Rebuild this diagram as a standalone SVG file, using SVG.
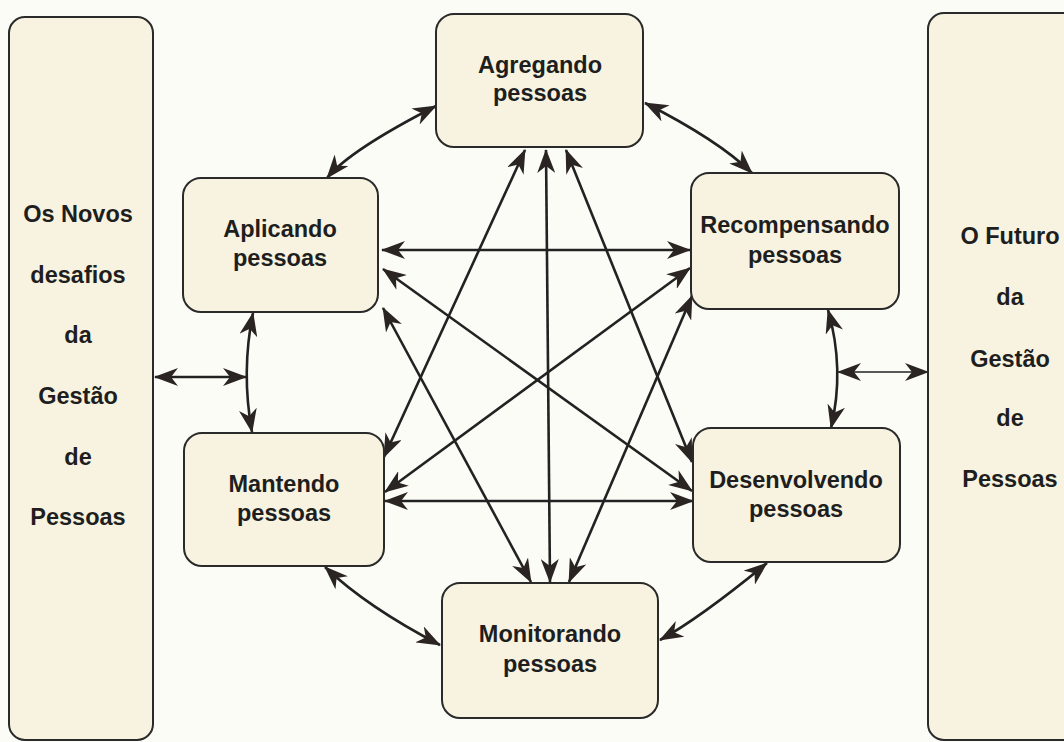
<svg xmlns="http://www.w3.org/2000/svg" width="1064" height="742" viewBox="0 0 1064 742">
<defs>
<style>
.box{fill:#f7f3e0;stroke:#2a2a2a;stroke-width:2}
.t{font-family:"Liberation Sans",Arial,sans-serif;font-weight:bold;font-size:23.5px;fill:#1e1e1e;text-anchor:middle}
.c{fill:none;stroke:#222;stroke-width:2.6;marker-start:url(#ah);marker-end:url(#ah)}
.thin{stroke-width:1.3}
</style>
<marker id="ah" viewBox="0 0 24 18" refX="23" refY="9" markerWidth="24" markerHeight="18" markerUnits="userSpaceOnUse" orient="auto-start-reverse">
<path d="M0,0 L24,9 L0,18 L7,9 Z" fill="#2a2422"/>
</marker>
</defs>
<rect width="1064" height="742" fill="#fcfcf7"/>

<g id="connectors">
<path class="c" d="M327,178 Q350,150 436,106"/>
<path class="c" d="M645,103 Q718,140 752,173"/>
<path class="c" d="M828,310 Q845,369 831,428"/>
<path class="c" d="M767,563 Q700,618 660,640"/>
<path class="c" d="M440,645 Q367,607 325,567"/>
<path class="c" d="M253,313 Q241,372 252,432"/>
<path class="c" d="M155,377 L246,377"/>
<path class="c thin" d="M838,372 L928,372"/>
<path class="c" d="M382,250 L690,250"/>
<path class="c" d="M385,501 L693,501"/>
<path class="c" d="M525,150 L384,457"/>
<path class="c" d="M546,150 L550,582"/>
<path class="c" d="M566,150 L692,462"/>
<path class="c" d="M383,269 L692,491"/>
<path class="c" d="M383,308 L531,582"/>
<path class="c" d="M690,268 L385,492"/>
<path class="c" d="M692,296 L569,582"/>
</g>

<g id="novos-desafios">
<rect class="box" x="9" y="17" width="144" height="723" rx="16"/>
<text class="t" x="78" y="222">Os Novos</text>
<text class="t" x="78" y="283">desafios</text>
<text class="t" x="78" y="343">da</text>
<text class="t" x="78" y="404">Gestão</text>
<text class="t" x="78" y="465">de</text>
<text class="t" x="78" y="525">Pessoas</text>
</g>

<g id="futuro">
<rect class="box" x="928" y="13" width="160" height="727" rx="16"/>
<text class="t" x="1010" y="244">O Futuro</text>
<text class="t" x="1010" y="305">da</text>
<text class="t" x="1010" y="367">Gestão</text>
<text class="t" x="1010" y="426">de</text>
<text class="t" x="1010" y="487">Pessoas</text>
</g>

<g id="agregando">
<rect class="box" x="436" y="14" width="207" height="133" rx="18"/>
<text class="t" x="540" y="73">Agregando</text>
<text class="t" x="540" y="101">pessoas</text>
</g>

<g id="aplicando">
<rect class="box" x="183" y="178" width="195" height="134" rx="18"/>
<text class="t" x="280" y="237">Aplicando</text>
<text class="t" x="280" y="266">pessoas</text>
</g>

<g id="recompensando">
<rect class="box" x="691" y="173" width="208" height="136" rx="18"/>
<text class="t" x="795" y="233">Recompensando</text>
<text class="t" x="795" y="263">pessoas</text>
</g>

<g id="mantendo">
<rect class="box" x="184" y="433" width="200" height="133" rx="18"/>
<text class="t" x="284" y="492">Mantendo</text>
<text class="t" x="284" y="521">pessoas</text>
</g>

<g id="desenvolvendo">
<rect class="box" x="693" y="428" width="207" height="134" rx="18"/>
<text class="t" x="796" y="488">Desenvolvendo</text>
<text class="t" x="796" y="517">pessoas</text>
</g>

<g id="monitorando">
<rect class="box" x="442" y="583" width="216" height="135" rx="18"/>
<text class="t" x="550" y="642">Monitorando</text>
<text class="t" x="550" y="672">pessoas</text>
</g>
</svg>
